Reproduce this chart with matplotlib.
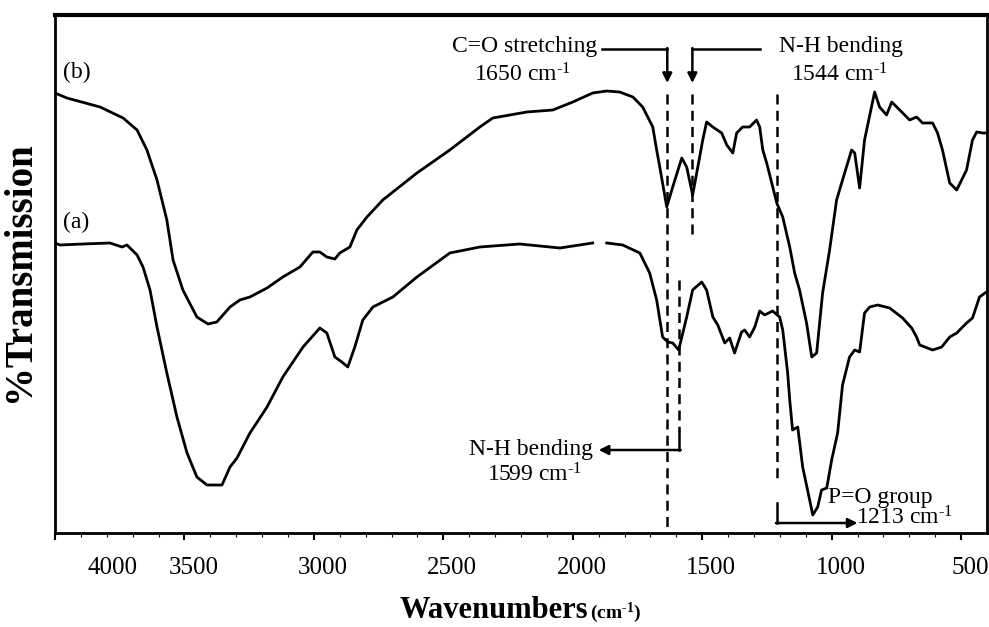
import numpy as np
import matplotlib
matplotlib.use("Agg")
import matplotlib.pyplot as plt
from matplotlib.transforms import ScaledTranslation

plt.rcParams['font.family'] = ['Liberation Serif', 'DejaVu Serif']
plt.rcParams['mathtext.default'] = 'regular'

# spectrum (b) - upper trace
wn_b = [4000, 3954, 3826, 3737, 3683, 3645, 3606, 3568, 3544, 3506, 3452, 3409, 3375,
        3324, 3286, 3247, 3181, 3120, 3054, 3004, 2977, 2950, 2919, 2900, 2861, 2834,
        2795, 2734, 2602, 2475, 2359, 2309, 2243, 2178, 2077, 2000, 1923, 1869, 1819, 1768,
        1730, 1691, 1676, 1664, 1637, 1614, 1579, 1560, 1537, 1517, 1498, 1483, 1459,
        1425, 1405, 1382, 1367, 1344, 1317, 1290, 1278, 1266, 1251, 1212, 1189, 1162,
        1143, 1124, 1097, 1077, 1058, 1035, 1008, 981, 958, 923, 911, 892, 873, 834,
        815, 788, 768, 737, 699, 672, 649, 610, 591, 572, 544, 517, 479, 456, 440, 417, 402]
t_b = [440, 435, 426, 415, 403, 383, 353, 313, 273, 243, 216, 209, 211,
       226, 233, 236, 245, 256, 266, 281, 281, 276, 274, 280, 286, 303,
       316, 333, 360, 383, 406, 415, 418, 421, 423, 431, 440, 442, 441, 436,
       426, 406, 383, 366, 326, 346, 375, 366, 338, 366, 393, 411, 406,
       400, 388, 380, 400, 406, 406, 413, 406, 383, 370, 330, 316, 286,
       260, 243, 210, 176, 180, 240, 283, 333, 353, 383, 380, 345, 393, 441,
       426, 418, 431, 423, 413, 416, 410, 410, 400, 383, 350, 343, 363, 393, 401, 400, 400]

# spectrum (a) - lower trace (NaN = gap in the original trace)
wn_a = [4000, 3981, 3892, 3788, 3741, 3722, 3683, 3660, 3633, 3606, 3568, 3529, 3490,
        3452, 3413, 3355, 3324, 3297, 3247, 3181, 3120, 3042, 2977, 2950, 2919, 2892,
        2869, 2842, 2811, 2772, 2695, 2602, 2475, 2359, 2205, 2050, 1923, 1900, 1869,
        1807, 1741, 1703, 1676, 1653, 1633, 1614, 1591, 1560, 1537, 1502, 1483, 1459,
        1440, 1413, 1394, 1375, 1348, 1336, 1317, 1297, 1278, 1259, 1228, 1201, 1189,
        1170, 1162, 1151, 1131, 1112, 1085, 1073, 1054, 1039, 1019, 1000, 977, 958,
        931, 911, 892, 873, 853, 822, 776, 726, 691, 672, 660, 610, 575, 544, 517,
        479, 456, 429, 402]
t_a = [290, 288, 289, 290, 286, 288, 278, 266, 243, 206, 160, 116, 80,
       56, 48, 48, 66, 75, 100, 126, 156, 186, 205, 200, 176, 171,
       166, 186, 213, 226, 236, 256, 280, 286, 289, 285, 290, np.nan, 290,
       288, 280, 260, 233, 196, 191, 190, 183, 216, 243, 251, 243, 216,
       208, 190, 195, 180, 201, 203, 196, 206, 222, 218, 222, 216, 203,
       160, 133, 103, 106, 66, 33, 18, 26, 43, 45, 73, 100, 148,
       176, 183, 181, 220, 226, 228, 225, 215, 205, 196, 188, 183, 186, 196, 200,
       210, 215, 236, 241]

ticks = [4000, 3500, 3000, 2500, 2000, 1500, 1000, 500]
peaks = [1635, 1588, 1538, 1210]   # where the dashed markers sit

fig = plt.figure(figsize=(9.89, 6.27), dpi=100)
ax = fig.add_axes([55/989, 1-533/627, 932/989, 518/627])

ax.plot(wn_b, t_b, color='black', lw=2.0, solid_joinstyle='round')
ax.plot(wn_a, t_a, color='black', lw=2.0, solid_joinstyle='round')
ax.set_xlim(4000, 400)
ax.set_ylim(0, 518)

# dashed markers
dash = dict(color='black', lw=1.8, ls=(0, (4, 2.5)))
ax.plot([peaks[0], peaks[0]], [439, 0], **dash)
ax.plot([peaks[2], peaks[2]], [439, 295], **dash)
ax.plot([peaks[1], peaks[1]], [253, 101], **dash)
ax.plot([peaks[3], peaks[3]], [439, 50], **dash)

# elbow arrows
solid = dict(color='black', lw=1.8)
arrow = dict(arrowstyle='-|>', color='black', lw=1.8, mutation_scale=14, shrinkA=0, shrinkB=0)
ax.plot([1888, peaks[0]], [484, 484], **solid)
ax.annotate('', xy=(peaks[0], 450), xytext=(peaks[0], 485), arrowprops=arrow)
ax.plot([1278, peaks[2]], [484, 484], **solid)
ax.annotate('', xy=(peaks[2], 450), xytext=(peaks[2], 485), arrowprops=arrow)
ax.plot([peaks[1], peaks[1]], [101, 83], **solid)
ax.annotate('', xy=(1900, 83), xytext=(peaks[1] - 5, 83), arrowprops=arrow)
ax.plot([peaks[3], peaks[3]], [30, 10], **solid)
ax.annotate('', xy=(900, 10), xytext=(peaks[3] + 5, 10), arrowprops=arrow)

fs = 17
sup = '$^{\u2010 1}$'
ax.text(1905, 486, 'C=O stretching', ha='right', va='center', fontsize=fs)
ax.text(2193, 458, '1650 cm' + sup, ha='center', va='center', fontsize=fs)
ax.text(1205, 486, 'N-H bending', ha='left', va='center', fontsize=fs)
ax.text(969, 458, '1544 cm' + sup, ha='center', va='center', fontsize=fs)
ax.text(2162, 83, 'N-H bending', ha='center', va='center', fontsize=fs)
ax.text(2147, 58, '1599 cm' + sup, ha='center', va='center', fontsize=fs)
ax.text(811, 36, 'P=O group', ha='center', va='center', fontsize=fs)
ax.text(718, 15, '1213 cm' + sup, ha='center', va='center', fontsize=fs)
ax.text(3969, 461, '(b)', ha='left', va='center', fontsize=fs)
ax.text(3969, 311, '(a)', ha='left', va='center', fontsize=fs)

# axes styling
ax.set_yticks([])
ax.set_xticks(ticks)
ax.set_xticklabels([str(t) for t in ticks], fontsize=18)
ax.set_xticks(np.arange(500, 4000, 100), minor=True)
ax.tick_params(axis='x', which='major', direction='out', length=5, width=1.5, pad=12)
ax.tick_params(axis='x', which='minor', direction='out', length=3, width=0.8)
for i, lab in enumerate(ax.get_xticklabels()):
    dx = 0.58 if i == 0 else 0.09
    lab.set_transform(lab.get_transform() + ScaledTranslation(dx, 0, fig.dpi_scale_trans))
ax.spines['top'].set_linewidth(3)
ax.spines['right'].set_linewidth(2)
ax.spines['bottom'].set_linewidth(2)
ax.spines['left'].set_linewidth(2)

fig.text(588/989, 1-618/627, 'Wavenumbers', ha='right', va='baseline',
         fontsize=22, fontweight='bold')
fig.text(590/989, 1-618/627, '(cm' + sup + ')', ha='left', va='baseline',
         fontsize=14, fontweight='bold')
fig.text(20/989, 1-272/627, '%Transmission', rotation=90, ha='center', va='center',
         fontsize=28, fontweight='bold')

fig.savefig('out.png', dpi=100)
